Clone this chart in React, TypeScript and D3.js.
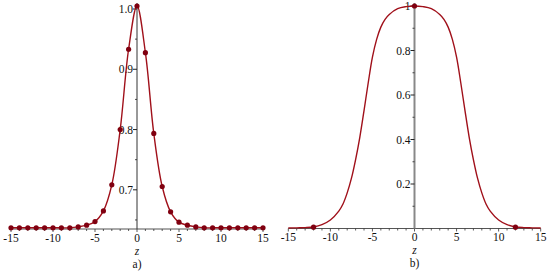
import React from "react";
import * as d3 from "d3";

// Panel a) sampled points (z, value)
const aZ = [-15,-14,-13,-12,-11,-10,-9,-8,-7,-6,-5,-4,-3,-2,-1,0,1,2,3,4,5,6,7,8,9,10,11,12,13,14,15];
const aV = [0.637,0.637,0.637,0.637,0.637,0.637,0.637,0.637,0.6385,0.6413,0.6473,0.665,0.7083,0.800,0.9332,1.005,0.9276,0.7935,0.7055,0.6635,0.6463,0.6413,0.6385,0.637,0.637,0.637,0.637,0.637,0.637,0.637,0.637];

// Panel b) curve (right half, mirrored for left)
const bZhalf = [0,1,2,3,3.5,4,4.5,5,5.5,6,6.5,7,7.5,8,8.5,9,10,11,12,13,14,15];
const bVhalf = [1.0,0.997,0.988,0.962,0.94,0.905,0.85,0.77,0.655,0.53,0.41,0.31,0.225,0.16,0.11,0.078,0.038,0.017,0.007,0.004,0.003,0.002];
const bPointsZ = [-12, 0, 12];
const bPointsV = [0.006, 1.0, 0.006];

const xTicks = [-15,-10,-5,0,5,10,15];
const aYTicks = [0.7,0.8,0.9,1.0];
const aYMinor = [0.65,0.75,0.85,0.95];
const bYTicks = [0.2,0.4,0.6,0.8,1];
const bYMinor = [0.1,0.3,0.5,0.7,0.9];

const LINE = "#a0101a";
const PT = "#800010";
const FONT = "'Liberation Serif', 'Times New Roman', 'DejaVu Serif', serif";
const FS = 11.5;

type PanelProps = {
  x0: number; x1: number; axisY: number;
  yScale: d3.ScaleLinear<number, number>;
  lineData: [number, number][];
  pts: [number, number][];
  yTicks: number[]; yMinor: number[];
  yFmt: (v: number) => string;
  axisColor: string; axisWidth: number;
  label: string;
};

function Panel(p: PanelProps) {
  const x = d3.scaleLinear().domain([-15, 15]).range([p.x0, p.x1]);
  const line = d3.line<[number, number]>()
    .x(d => x(d[0])).y(d => p.yScale(d[1]))
    .curve(d3.curveCatmullRom.alpha(0.5));
  const minorX = d3.range(-15, 16, 1);
  const cx = x(0);
  const ts = { fontFamily: FONT, fontSize: FS, fill: "#111" } as React.CSSProperties;
  return (
    <g>
      <line x1={x(-15)} x2={x(15)} y1={p.axisY} y2={p.axisY} stroke="#555" strokeWidth={1.2} />
      {minorX.map(v => (
        <line key={"mx" + v} x1={x(v)} x2={x(v)} y1={p.axisY} y2={p.axisY + (v % 5 === 0 ? 3 : 2)} stroke="#333" strokeWidth={0.8} />
      ))}
      {xTicks.map(v => (
        <text key={"xt" + v} x={x(v)} y={p.axisY + 12.5} textAnchor="middle" style={ts}>{String(v)}</text>
      ))}
      <text x={cx} y={p.axisY + 25.5} textAnchor="middle" style={{ ...ts, fontStyle: "italic" }}>z</text>
      <text x={cx} y={p.axisY + 38.5} textAnchor="middle" style={ts}>{p.label}</text>
      <line x1={cx} x2={cx} y1={p.axisY} y2={3} stroke={p.axisColor} strokeWidth={p.axisWidth} />
      {p.yTicks.map(v => (
        <g key={"yt" + v}>
          <line x1={cx - 4} x2={cx} y1={p.yScale(v)} y2={p.yScale(v)} stroke="#222" strokeWidth={1} />
          <text x={cx - 4} y={p.yScale(v) + 4} textAnchor="end" style={ts}>{p.yFmt(v)}</text>
        </g>
      ))}
      {p.yMinor.map(v => (
        <line key={"ym" + v} x1={cx - 2} x2={cx} y1={p.yScale(v)} y2={p.yScale(v)} stroke="#222" strokeWidth={0.8} />
      ))}
      <path d={line(p.lineData) || ""} fill="none" stroke={LINE} strokeWidth={1.4} />
      {p.pts.map((d, i) => (
        <circle key={"p" + i} cx={x(d[0])} cy={p.yScale(d[1])} r={2.6} fill={PT} />
      ))}
    </g>
  );
}

export default function App() {
  const aData: [number, number][] = aZ.map((z, i) => [z, aV[i]]);
  const yA = d3.scaleLinear().domain([0.635, 1.0]).range([229, 9]);

  const bData: [number, number][] = [
    ...bZhalf.slice(1).map((z, i) => [-z, bVhalf[i + 1]] as [number, number]).reverse(),
    ...bZhalf.map((z, i) => [z, bVhalf[i]] as [number, number]),
  ];
  const yB = d3.scaleLinear().domain([0, 1]).range([228.5, 6]);
  const bPts: [number, number][] = bPointsZ.map((z, i) => [z, bPointsV[i]]);

  return (
    <svg width={550} height={272} style={{ position: "absolute", left: 0, top: 0, background: "#fff", fontFamily: FONT }}>
      <rect width={550} height={272} fill="#fff" />
      <Panel x0={11} x1={263} axisY={229} yScale={yA} lineData={aData} pts={aData}
        yTicks={aYTicks} yMinor={aYMinor} yFmt={v => v.toFixed(1)}
        axisColor="#333" axisWidth={1} label="a)" />
      <Panel x0={288.3} x1={540.7} axisY={228.5} yScale={yB} lineData={bData} pts={bPts}
        yTicks={bYTicks} yMinor={bYMinor} yFmt={v => (v === 1 ? "1" : v.toFixed(1))}
        axisColor="#888" axisWidth={2} label="b)" />
    </svg>
  );
}
